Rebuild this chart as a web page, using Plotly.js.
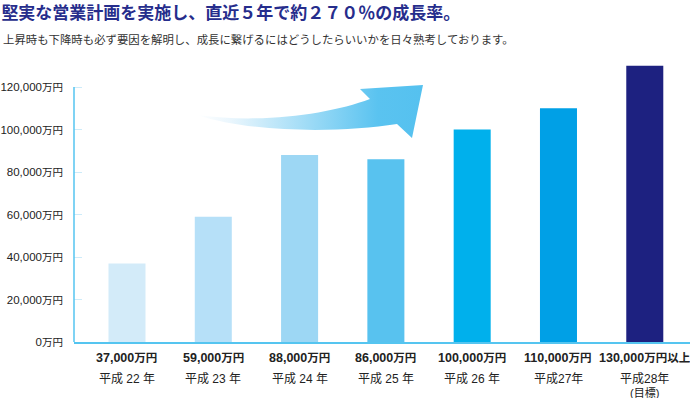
<!DOCTYPE html>
<html>
<head>
<meta charset="utf-8">
<script src="https://cdn.plot.ly/plotly-3.0.1.min.js"></script>
<style>html,body{margin:0;padding:0;background:#fff}#chart{width:690px;height:398px}</style>
</head>
<body>
<div id="chart"></div>
<script>
// ---- data ----
const categories = ['H22', 'H23', 'H24', 'H25', 'H26', 'H27', 'H28'];
const values = [37000, 59000, 88000, 86000, 100000, 110000, 130000];
const valueLabels = ['37,000万円', '59,000万円', '88,000万円', '86,000万円', '100,000万円', '110,000万円', '130,000万円以上'];
const yearLabels = ['平成 22 年', '平成 23 年', '平成 24 年', '平成 25 年', '平成 26 年', '平成27年', '平成28年'];
const yearNotes = ['', '', '', '', '', '', '(目標)'];
const barColors = ['#d3ebf9', '#b6e0f8', '#9dd7f4', '#58c2ef', '#00b0ec', '#00a0e6', '#1d2180'];
const yTickVals = [0, 20000, 40000, 60000, 80000, 100000, 120000];
const yTickText = ['0万円', '20,000万円', '40,000万円', '60,000万円', '80,000万円', '100,000万円', '120,000万円'];
const titleText = '堅実な営業計画を実施し、直近５年で約２７０％の成長率。';
const subtitleText = '上昇時も下降時も必ず要因を解明し、成長に繋げるにはどうしたらいいかを日々熟考しております。';

// ---- layout constants ----
const W = 690, H = 398, L = 74, R = 0, T = 50, B = 56;
const pw = W - L - R, ph = H - T - B;
const latin = 'Liberation Sans, Noto Sans CJK JP, sans-serif';
const cjk = 'Noto Sans CJK JP, sans-serif';

function smallUnit(s, size) {
  return s.replace(/(万円.*)$/, "<span style='font-size:" + size + "px'>$1</span>");
}

// Arrow as an SVG image (decoration)
const ax0 = 190, ay0 = 75, aw = 240, ah = 70;
function P(x, y) { return (x - ax0) + ',' + (y - ay0); }
const arrowPath = 'M' + P(197,115) + ' C' + P(262,124) + ' ' + P(330,114) + ' ' + P(370,99) +
  ' L' + P(360,89) + ' L' + P(423,85) + ' L' + P(412,138) + ' L' + P(397,124) +
  ' C' + P(340,133) + ' ' + P(252,133) + ' ' + P(197,115) + ' Z';
const svg = "<svg xmlns='http://www.w3.org/2000/svg' width='" + aw + "' height='" + ah + "' viewBox='0 0 " + aw + " " + ah + "'>" +
  "<defs><linearGradient id='g' x1='0' y1='0' x2='1' y2='0'>" +
  "<stop offset='0' stop-color='#ffffff'/><stop offset='0.15' stop-color='#eaf6fd'/><stop offset='0.8' stop-color='#5ac3f0'/><stop offset='1' stop-color='#55c1ef'/>" +
  "</linearGradient></defs><path d='" + arrowPath + "' fill='url(#g)'/></svg>";
const svgUri = 'data:image/svg+xml;charset=utf-8,' + encodeURIComponent(svg);

const trace = {
  type: 'bar',
  x: categories,
  y: values,
  width: 0.429,
  marker: { color: barColors, line: { width: 0 } },
  hoverinfo: 'skip'
};

const annotations = [];
categories.forEach((c, i) => {
  annotations.push({
    x: c, xref: 'x', y: 0, yref: 'paper', yshift: -16, yanchor: 'middle', xanchor: 'center',
    text: '<b>' + smallUnit(valueLabels[i], 11.5) + '</b>', showarrow: false,
    font: { family: latin, size: 12.5, color: '#222' }
  });
  annotations.push({
    x: c, xref: 'x', y: 0, yref: 'paper', yshift: -37, yanchor: 'middle', xanchor: 'center',
    text: yearLabels[i], showarrow: false,
    font: { family: latin, size: 12, color: '#222' }
  });
  if (yearNotes[i]) {
    annotations.push({
      x: c, xref: 'x', y: 0, yref: 'paper', yshift: -50, yanchor: 'middle', xanchor: 'center',
      text: yearNotes[i], showarrow: false,
      font: { family: latin, size: 11, color: '#222' }
    });
  }
});
annotations.push({
  xref: 'paper', yref: 'paper', x: (1 - L) / pw, y: 1 + (T - 39) / ph, xanchor: 'left', yanchor: 'middle',
  text: subtitleText, showarrow: false, font: { family: cjk, size: 11.4, color: '#333' }
});

const yTop = ph * 20000 / 42.5;

const layout = {
  width: W, height: H,
  margin: { l: L, r: R, t: T, b: B, pad: 0 },
  paper_bgcolor: '#fff', plot_bgcolor: '#fff',
  showlegend: false,
  title: {
    text: '<b>' + titleText + '</b>',
    xref: 'container', yref: 'container', x: 0.002, xanchor: 'left', y: 1 - 13 / H, yanchor: 'middle',
    font: { family: cjk, size: 17, color: '#262d8c' }
  },
  xaxis: {
    type: 'category',
    range: [-0.614, 6.524],
    showgrid: false, zeroline: false,
    showline: true, linecolor: '#55c5f0', linewidth: 1.5,
    showticklabels: false, ticks: '',
    fixedrange: true
  },
  yaxis: {
    range: [0, yTop],
    showgrid: false, zeroline: false, showline: false,
    tickmode: 'array', tickvals: yTickVals,
    ticktext: yTickText.map(t => smallUnit(t, 10.5)),
    ticks: 'inside', ticklen: 8, tickcolor: '#cdebf9', tickwidth: 1,
    ticklabelstandoff: 10,
    tickfont: { family: latin, size: 11.5, color: '#222' },
    fixedrange: true
  },
  shapes: [{
    type: 'line', xref: 'paper', yref: 'y', x0: 0, x1: 0, y0: 0, y1: yTickVals[yTickVals.length - 1],
    line: { color: '#55c5f0', width: 1.5 }
  }],
  images: [{
    source: svgUri, xref: 'paper', yref: 'paper',
    x: (ax0 - L) / pw, y: (H - B - ay0) / ph, sizex: aw / pw, sizey: ah / ph,
    xanchor: 'left', yanchor: 'top', sizing: 'stretch', layer: 'above'
  }],
  annotations: annotations
};

Plotly.newPlot('chart', [trace], layout, { displayModeBar: false, staticPlot: true });
</script>
</body>
</html>
